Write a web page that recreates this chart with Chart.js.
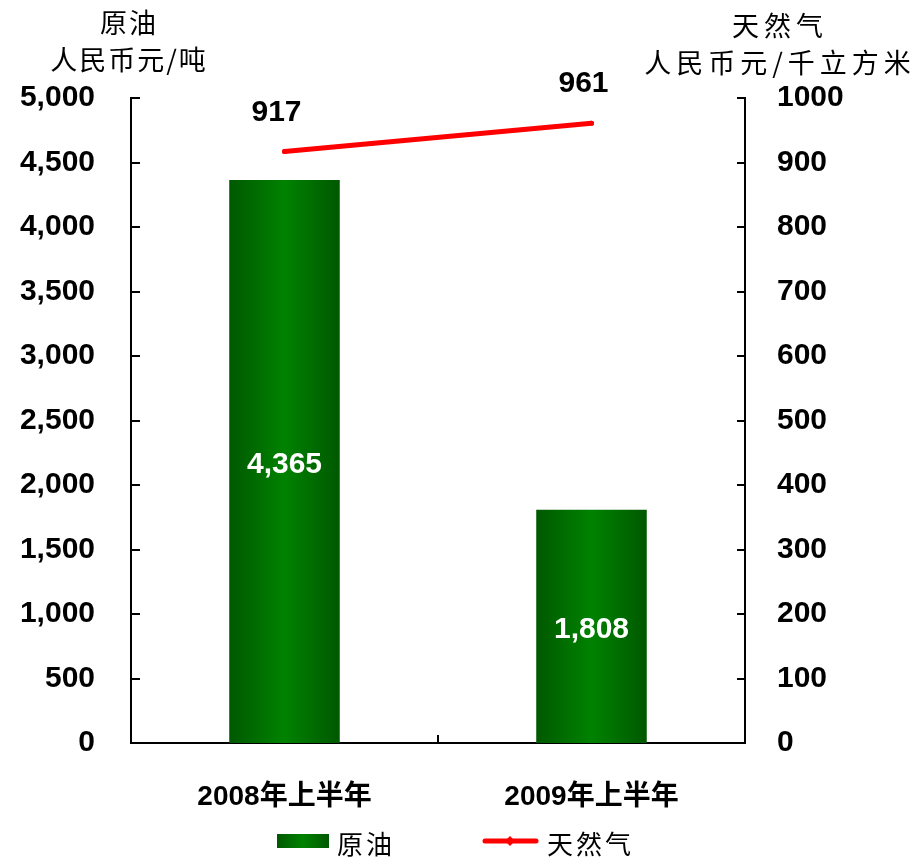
<!DOCTYPE html>
<html>
<head>
<meta charset="utf-8">
<script src="https://cdn.jsdelivr.net/npm/chart.js@4"></script>
<style>
  body { margin: 0; background: #fff; }
  #wrap { position: relative; width: 915px; height: 858px; }
  .ttl { position: absolute; font-family: "Noto Sans CJK SC", sans-serif; font-size: 27px; color: #000; text-align: center; line-height: 37px; white-space: nowrap; }
</style>
</head>
<body>
<div id="wrap">
  <canvas id="c" width="915" height="858"></canvas>
  <div class="ttl" style="left:29px; top:3px; width:200px; letter-spacing:2px;">原油<br>人民币元/吨</div>
  <div class="ttl" style="left:630px; top:6px; width:300px; letter-spacing:5px;">天然气<br>人民币元/千立方米</div>
</div>
<script>
const categories = ["2008年上半年", "2009年上半年"];
const oilValues = [4365, 1808];
const gasValues = [917, 961];
const oilTicks = [0, 500, 1000, 1500, 2000, 2500, 3000, 3500, 4000, 4500, 5000];
const gasTicks = [0, 100, 200, 300, 400, 500, 600, 700, 800, 900, 1000];
const seriesNames = ["原油", "天然气"];

const BAR_PCT = 0.36;

function makeGradient(ctx, x0, x1) {
  const g = ctx.createLinearGradient(x0, 0, x1, 0);
  g.addColorStop(0, "#005800");
  g.addColorStop(0.5, "#008200");
  g.addColorStop(1, "#005800");
  return g;
}

function barGradient(context) {
  const chart = context.chart;
  const { ctx, chartArea } = chart;
  if (!chartArea) return "#008000";
  const x = chart.scales.x.getPixelForValue(context.dataIndex || 0);
  const half = (chartArea.width / categories.length) * BAR_PCT / 2;
  return makeGradient(ctx, x - half, x + half);
}

// inner tick marks, value labels, legend
const extras = {
  id: "extras",
  afterDraw(chart) {
    const { ctx, chartArea } = chart;
    const y = chart.scales.y, y1 = chart.scales.y1, x = chart.scales.x;
    ctx.save();
    ctx.strokeStyle = "#000";
    ctx.lineWidth = 2;
    ctx.beginPath();
    oilTicks.forEach(v => {
      const py = Math.round(y.getPixelForValue(v));
      ctx.moveTo(chartArea.left, py);
      ctx.lineTo(chartArea.left + 9, py);
    });
    gasTicks.forEach(v => {
      const py = Math.round(y1.getPixelForValue(v));
      ctx.moveTo(chartArea.right - 8, py);
      ctx.lineTo(chartArea.right, py);
    });
    const mid = (x.getPixelForValue(0) + x.getPixelForValue(1)) / 2;
    ctx.moveTo(mid, chartArea.bottom);
    ctx.lineTo(mid, chartArea.bottom - 8);
    ctx.stroke();

    ctx.font = "bold 30px 'Liberation Sans', Arial, sans-serif";
    ctx.textAlign = "center";
    ctx.textBaseline = "middle";
    ctx.fillStyle = "#fff";
    chart.getDatasetMeta(0).data.forEach((bar, i) => {
      ctx.fillText(oilValues[i].toLocaleString("en-US"), bar.x, (bar.y + bar.base) / 2 + 3);
    });
    ctx.fillStyle = "#000";
    chart.getDatasetMeta(1).data.forEach((pt, i) => {
      ctx.fillText(String(gasValues[i]), pt.x - 8, pt.y - 39);
    });

    // legend
    const ly = 841;
    ctx.fillStyle = makeGradient(ctx, 277, 329);
    ctx.fillRect(277, ly - 7, 52, 14);
    ctx.strokeStyle = "#ff0000";
    ctx.lineWidth = 5;
    ctx.lineCap = "round";
    ctx.beginPath();
    ctx.moveTo(485, ly);
    ctx.lineTo(536, ly);
    ctx.stroke();
    ctx.fillStyle = "#ff0000";
    ctx.beginPath();
    ctx.moveTo(510, ly - 5); ctx.lineTo(515, ly); ctx.lineTo(510, ly + 5); ctx.lineTo(505, ly);
    ctx.fill();
    ctx.fillStyle = "#000";
    ctx.textAlign = "left";
    ctx.font = "26px 'Noto Sans CJK SC', sans-serif";
    ctx.letterSpacing = "3px";
    ctx.fillText(seriesNames[0], 337, ly + 3);
    ctx.fillText(seriesNames[1], 547, ly + 3);
    ctx.restore();
  }
};

new Chart(document.getElementById("c"), {
  data: {
    labels: categories,
    datasets: [
      {
        type: "bar",
        label: seriesNames[0],
        data: oilValues,
        yAxisID: "y",
        backgroundColor: barGradient,
        barPercentage: BAR_PCT,
        categoryPercentage: 1,
        order: 2,
      },
      {
        type: "line",
        label: seriesNames[1],
        data: gasValues,
        yAxisID: "y1",
        borderColor: "#ff0000",
        backgroundColor: "#ff0000",
        borderWidth: 5,
        borderCapStyle: "round",
        pointRadius: 2.5,
        pointBorderWidth: 0,
        order: 1,
      },
    ],
  },
  options: {
    responsive: false,
    animation: false,
    layout: { padding: { top: 98, left: 0, right: 0, bottom: 43 } },
    scales: {
      x: {
        grid: { display: false, drawTicks: false },
        border: { display: true, color: "#000", width: 2 },
        ticks: {
          color: "#000",
          padding: 37,
          font: { family: "'Liberation Sans', 'Noto Sans CJK SC', sans-serif", size: 28, weight: "bold" },
        },
        afterFit: (s) => { s.height = 72; },
      },
      y: {
        position: "left",
        min: 0,
        max: 5000,
        grid: { display: false, drawTicks: false },
        border: { display: true, color: "#000", width: 2 },
        ticks: {
          stepSize: 500,
          color: "#000",
          padding: 36,
          font: { family: "'Liberation Sans', Arial, sans-serif", size: 30, weight: "bold" },
          callback: (v) => v.toLocaleString("en-US"),
        },
        afterFit: (s) => { s.width = 131; },
      },
      y1: {
        position: "right",
        min: 0,
        max: 1000,
        grid: { display: false, drawTicks: false },
        border: { display: true, color: "#000", width: 2 },
        ticks: {
          stepSize: 100,
          color: "#000",
          padding: 32,
          font: { family: "'Liberation Sans', Arial, sans-serif", size: 30, weight: "bold" },
          callback: (v) => String(v),
        },
        afterFit: (s) => { s.width = 170; },
      },
    },
    plugins: {
      legend: { display: false },
      tooltip: { enabled: false },
    },
  },
  plugins: [extras],
});
</script>
</body>
</html>
